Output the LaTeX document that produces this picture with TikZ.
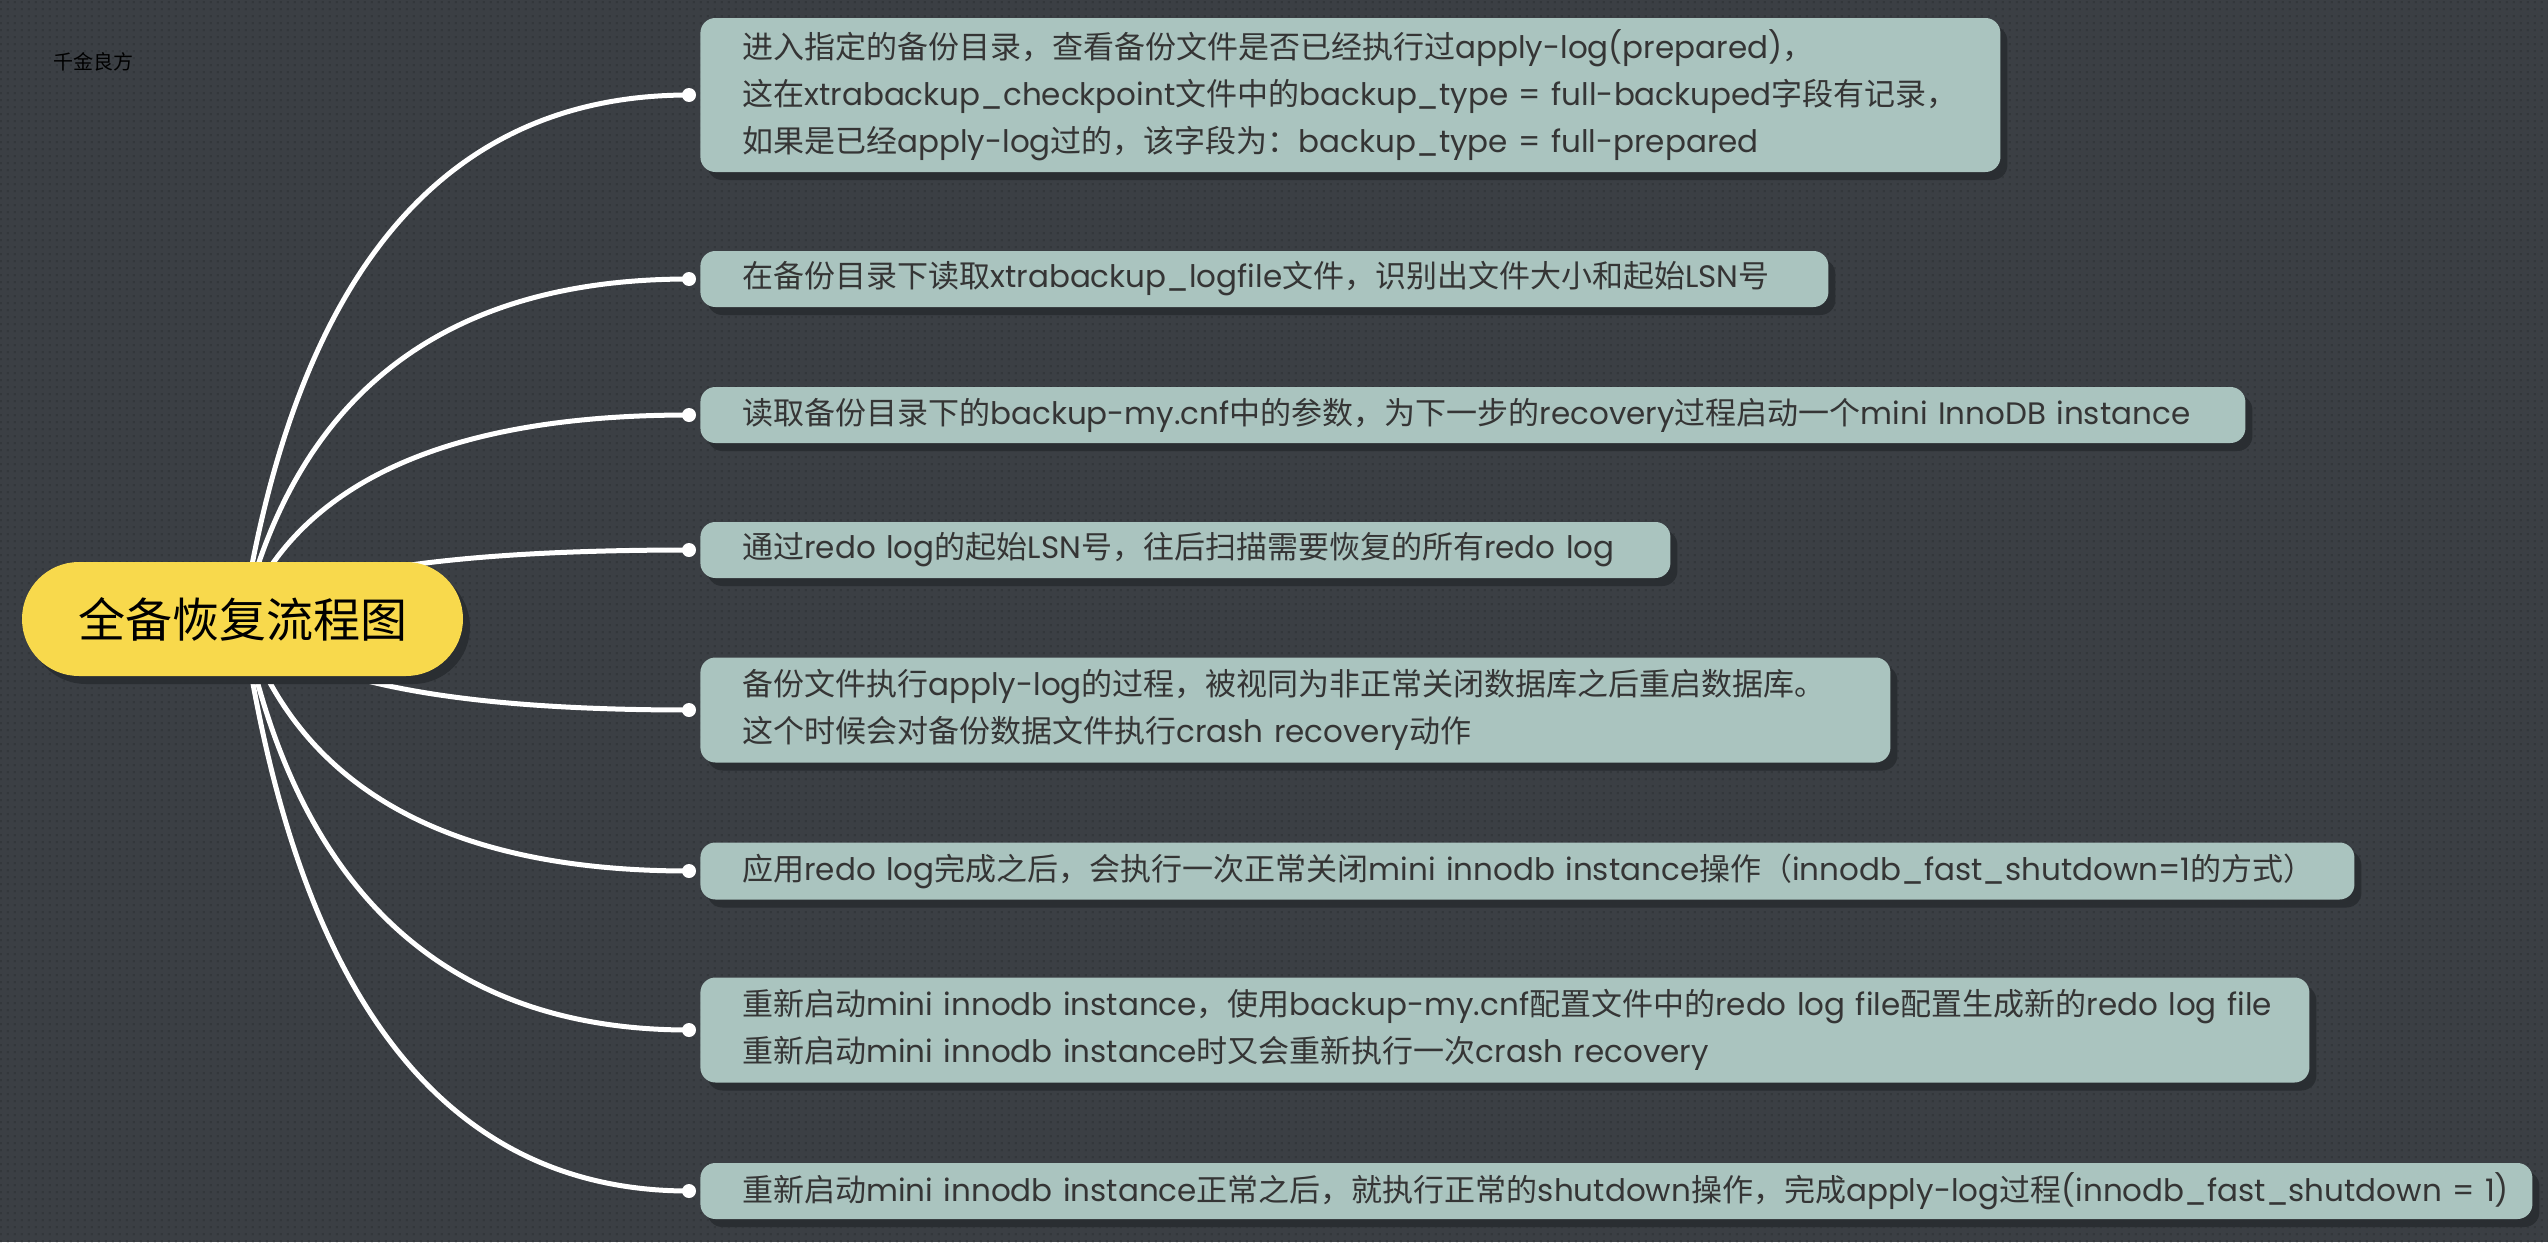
\documentclass[tikz,border=0pt]{standalone}
\usepackage{fontspec}
\setmainfont{Noto Sans CJK SC}
\newfontfamily\latfont{Poppins}[WordSpace=0.9]
\usetikzlibrary{calc,shapes.misc,shadows,patterns.meta}
\pgfdeclarelayer{back}
\pgfdeclarelayer{links}
\pgfsetlayers{back,links,main}
\definecolor{bgc}{HTML}{3B3F44}
\definecolor{dotc}{HTML}{33373B}
\definecolor{boxc}{HTML}{AAC4BF}
\definecolor{yelc}{HTML}{F8D94C}
\definecolor{shc}{HTML}{2A2E32}
\definecolor{txtc}{HTML}{353535}
\newcommand\latn[1]{{\latfont #1}}
\tikzdeclarepattern{
  name=bgdots, type=uncolored,
  bounding box={(0pt,0pt) and (3.5pt,3.5pt)},
  tile size={(3.5pt,3.5pt)},
  code={\pgfpathrectangle{\pgfpoint{0.5pt}{0.5pt}}{\pgfpoint{1.1pt}{1.1pt}}\pgfusepath{fill}}
}
\tikzset{
  stepbox/.style={fill=boxc, rounded corners=7.5pt, anchor=west, inner xsep=21pt, inner ysep=0pt,
    align=left, text=txtc, font=\fontsize{15.5pt}{23.5pt}\selectfont,
    drop shadow={shadow xshift=3.5pt, shadow yshift=-4pt, fill=shc, opacity=1}},
  central/.style={rounded rectangle, fill=yelc, minimum width=220.5pt, minimum height=57pt,
    inner sep=0pt, text=black, font=\fontsize{23.5pt}{28pt}\selectfont,
    drop shadow={shadow xshift=3.5pt, shadow yshift=-4pt, fill=shc, opacity=1}},
  link/.style={white, line width=2.5pt, line cap=round},
  wmark/.style={font=\fontsize{10pt}{12pt}\selectfont, text=black, inner sep=0pt}
}
\begin{document}
\begin{tikzpicture}[x=0.5pt, y=-0.5pt]
\useasboundingbox (0,0) rectangle (2548,1242);
\begin{pgfonlayer}{back}
\fill[bgc] (0,0) rectangle (2548,1242);
\fill[pattern=bgdots, pattern color=dotc] (0,0) rectangle (2548,1242);
\end{pgfonlayer}

\node[wmark] (wm) at (94,62) {千金良方};

\node[central] (c) at (242.5,619) {全备恢复流程图};

\node[stepbox, text width=608pt, minimum height=77pt] (b1) at (700,95) {%
\mbox{进入指定的备份目录，查看备份文件是否已经执行过\latn{apply-log(prepared)}，}\\
\mbox{这在\latn{xtrabackup\_checkpoint}文件中的\latn{backup\_type = full-backuped}字段有记录，}\\
\mbox{如果是已经\latn{apply-log}过的，该字段为：\latn{backup\_type = full-prepared}}};

\node[stepbox, text width=522pt, minimum height=28pt] (b2) at (700,279) {%
\mbox{在备份目录下读取\latn{xtrabackup\_logfile}文件，识别出文件大小和起始\latn{LSN}号}};

\node[stepbox, text width=730.5pt, minimum height=28pt] (b3) at (700,415) {%
\mbox{读取备份目录下的\latn{backup-my.cnf}中的参数，为下一步的\latn{recovery}过程启动一个\latn{mini InnoDB instance}}};

\node[stepbox, text width=443pt, minimum height=28pt] (b4) at (700,550) {%
\mbox{通过\latn{redo log}的起始\latn{LSN}号，往后扫描需要恢复的所有\latn{redo log}}};

\node[stepbox, text width=553pt, minimum height=52.5pt] (b5) at (700,710) {%
\mbox{备份文件执行\latn{apply-log}的过程，被视同为非正常关闭数据库之后重启数据库。}\\
\mbox{这个时候会对备份数据文件执行\latn{crash recovery}动作}};

\node[stepbox, text width=785pt, minimum height=28.5pt] (b6) at (700,871) {%
\mbox{应用\latn{redo log}完成之后，会执行一次正常关闭\latn{mini innodb instance}操作（\latn{innodb\_fast\_shutdown=1}的方式）}};

\node[stepbox, text width=762.5pt, minimum height=52.5pt] (b7) at (700,1030) {%
\mbox{重新启动\latn{mini innodb instance}，使用\latn{backup-my.cnf}配置文件中的\latn{redo log file}配置生成新的\latn{redo log file}}\\
\mbox{重新启动\latn{mini innodb instance}时又会重新执行一次\latn{crash recovery}}};

\node[stepbox, text width=874pt, minimum height=28pt] (b8) at (700,1191) {%
\mbox{重新启动\latn{mini innodb instance}正常之后，就执行正常的\latn{shutdown}操作，完成\latn{apply-log}过程\latn{(innodb\_fast\_shutdown = 1)}}};

\begin{pgfonlayer}{links}
\foreach \i in {1,...,8}{
  \coordinate (e\i) at ([xshift=-5.5pt]b\i.west);
  \coordinate (q\i) at ($(c.center|-e\i)+(41pt,0)$);
  \draw[link] (c.center) .. controls ($(c.center)!0.6667!(q\i)$) and ($(e\i)!0.6667!(q\i)$) .. (e\i);
  \fill[white] (e\i) circle (3.5pt);
}
\end{pgfonlayer}
\end{tikzpicture}
\end{document}
